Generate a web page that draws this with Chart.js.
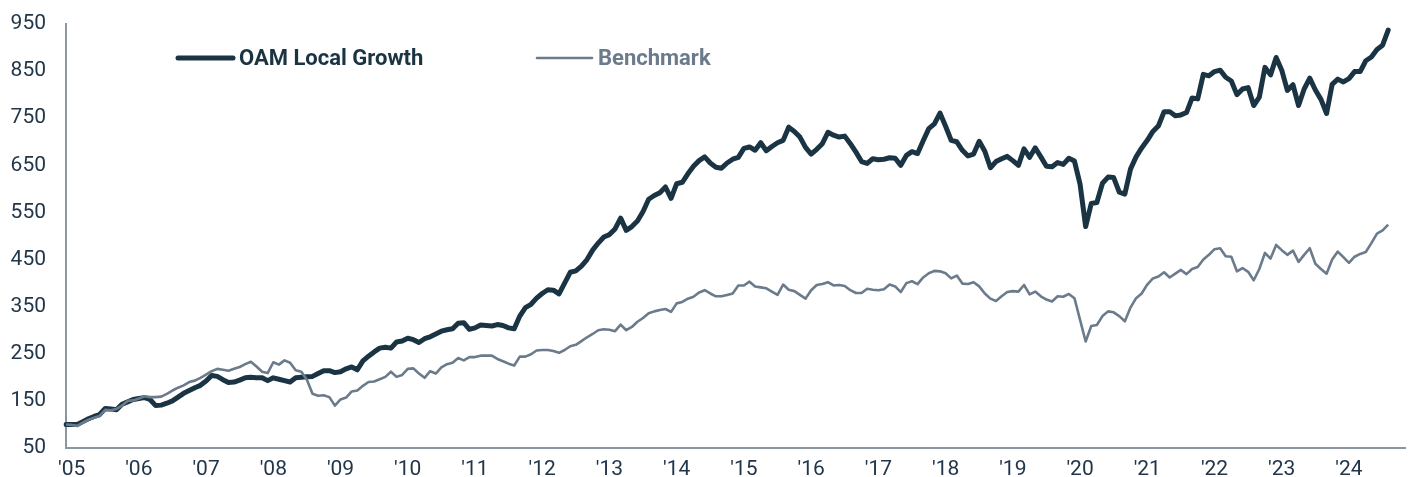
<!DOCTYPE html>
<html>
<head>
<meta charset="utf-8">
<script src="https://cdn.jsdelivr.net/npm/chart.js@4"></script>
<style>
html,body{margin:0;padding:0;background:#fff;}
#wrap{width:1415px;height:477px;position:relative;}
</style>
</head>
<body>
<div id="wrap"><canvas id="c" width="1415" height="477"></canvas></div>
<script>
// Month categories Dec 2004 .. Nov 2024
const startYear = 2004, startMonth = 12, monthCount = 240;
const categories = [];
for (let k = 0; k < monthCount; k++) {
  const m = (startMonth - 1 + k) % 12 + 1;
  const y = startYear + Math.floor((startMonth - 1 + k) / 12);
  categories.push(y + '-' + String(m).padStart(2, '0'));
}
const yearTickLabels = ["'05","'06","'07","'08","'09","'10","'11","'12","'13","'14","'15","'16","'17","'18","'19","'20","'21","'22","'23","'24"];
const yTicks = [50,150,250,350,450,550,650,750,850,950];
const seriesNames = ["OAM Local Growth", "Benchmark"];

const oamLocalGrowth = [
100,100,100,106,112,117,121,134,133,131,143,148,153,155,157,153,140,141,145,150,
158,166,172,178,183,192,204,202,195,189,190,194,199,200,199,199,193,199,196,193,
190,199,200,201,202,208,214,214,210,212,218,222,216,235,245,254,262,264,262,275,
277,283,280,274,282,286,292,298,301,303,315,316,302,305,311,310,309,312,310,305,
303,330,348,355,368,378,386,385,377,400,423,426,436,450,470,485,498,503,515,538,
512,520,532,552,578,586,592,604,580,611,614,632,648,660,668,655,646,644,655,663,
667,686,689,682,698,681,690,698,703,731,722,710,688,674,684,696,720,714,710,712,
696,678,658,654,664,662,663,666,665,650,671,679,675,702,728,738,761,733,703,700,
682,670,674,701,680,645,658,664,669,660,650,685,667,687,668,648,647,656,652,665,
659,610,520,569,571,612,625,624,593,589,642,668,687,703,722,734,764,764,755,757,
762,793,791,843,840,849,852,837,829,800,812,815,777,795,858,842,879,852,809,821,
777,812,835,810,790,760,822,833,827,834,849,849,872,880,896,905,937
];
const benchmark = [
100,99,97,104,110,114,118,131,130,133,140,150,151,155,160,158,158,159,165,172,
178,183,190,193,199,206,213,218,216,214,218,222,228,233,223,212,209,232,227,236,
231,215,212,195,165,161,162,158,140,153,157,170,172,182,190,191,196,201,212,201,
205,218,219,208,199,213,208,221,228,231,241,236,243,243,246,246,246,239,234,229,
225,244,244,249,257,258,258,256,252,258,266,269,277,285,292,300,302,301,298,312,
300,307,318,326,336,340,343,345,339,357,360,367,371,380,385,378,372,372,375,378,
395,395,403,393,391,389,382,375,397,386,383,375,367,385,396,398,402,395,396,394,
385,379,379,388,386,385,387,397,393,381,400,404,398,412,421,426,425,421,410,416,
399,398,402,393,378,367,362,372,381,383,382,396,376,382,372,365,361,372,371,377,
368,322,276,309,311,330,340,338,330,319,348,368,378,397,410,414,423,412,420,428,
419,430,434,450,460,472,474,457,456,425,432,424,406,430,464,452,481,470,460,469,
445,460,474,441,430,420,450,467,455,443,456,462,466,485,505,512,524
];

const C_OAM = '#1b3444';
const C_BM = '#6b7b8c';
const C_AXIS = '#8a96a2';
const C_TEXT = '#22364a';
const FONT = 'Roboto, "Liberation Sans", sans-serif';

const legendPlugin = {
  id: 'customLegend',
  afterDraw(chart) {
    const ctx = chart.ctx;
    const items = [
      {name: seriesNames[0], color: C_OAM, width: 5, x0: 178, x1: 233, tx: 239},
      {name: seriesNames[1], color: C_BM, width: 2.6, x0: 537, x1: 592, tx: 598}
    ];
    const y = 58;
    ctx.save();
    items.forEach(it => {
      ctx.strokeStyle = it.color;
      ctx.lineWidth = it.width;
      ctx.lineCap = 'round';
      ctx.beginPath();
      ctx.moveTo(it.x0, y);
      ctx.lineTo(it.x1, y);
      ctx.stroke();
      ctx.fillStyle = it.color;
      ctx.font = 'bold 22px ' + FONT;
      ctx.textBaseline = 'middle';
      ctx.textAlign = 'left';
      ctx.fillText(it.name, it.tx, y + 1);
    });
    ctx.restore();
  }
};

new Chart(document.getElementById('c'), {
  type: 'line',
  data: {
    labels: categories,
    datasets: [
      {label: seriesNames[1], data: benchmark, borderColor: C_BM, borderWidth: 2.6,
       pointRadius: 0, tension: 0, fill: false, borderJoinStyle: 'round'},
      {label: seriesNames[0], data: oamLocalGrowth, borderColor: C_OAM, borderWidth: 5,
       pointRadius: 0, tension: 0, fill: false, borderJoinStyle: 'round', borderCapStyle: 'round'}
    ]
  },
  options: {
    responsive: false,
    animation: false,
    devicePixelRatio: 1,
    layout: {padding: {top: 24, right: 10, left: 0, bottom: 0}},
    plugins: {legend: {display: false}, tooltip: {enabled: false}},
    scales: {
      x: {
        type: 'category',
        offset: false,
        grid: {display: false, drawTicks: false},
        border: {display: true, color: C_AXIS, width: 2},
        ticks: {
          autoSkip: false, maxRotation: 0, minRotation: 0, padding: 9,
          color: C_TEXT, font: {family: FONT, size: 21},
          callback: function(val, idx) {
            const lab = categories[idx];
            if (lab && lab.endsWith('-01')) {
              const yi = parseInt(lab.slice(0, 4)) - 2005;
              return yearTickLabels[yi] !== undefined ? yearTickLabels[yi] : '';
            }
            return '';
          }
        },
        afterFit(scale) { scale.height = 29; scale.paddingLeft = 0; scale.paddingRight = 0; }
      },
      y: {
        min: 50, max: 950,
        grid: {display: false, drawTicks: false},
        border: {display: true, color: C_AXIS, width: 2},
        afterBuildTicks(scale) { scale.ticks = yTicks.map(v => ({value: v})); },
        ticks: {padding: 20, color: C_TEXT, font: {family: FONT, size: 21}},
        afterFit(scale) { scale.width = 66; scale.paddingTop = 0; scale.paddingBottom = 0; }
      }
    }
  },
  plugins: [legendPlugin]
});
</script>
</body>
</html>
